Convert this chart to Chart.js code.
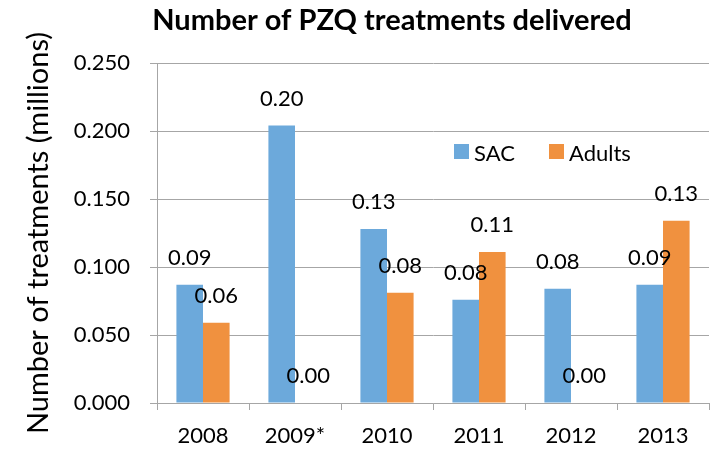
<!DOCTYPE html>
<html>
<head>
<meta charset="utf-8">
<script src="https://cdn.jsdelivr.net/npm/chart.js@4"></script>
<style>
  html, body { margin: 0; padding: 0; background: #fff; }
  #wrap { width: 727px; height: 450px; }
</style>
</head>
<body>
<div id="wrap"><canvas id="pzqChart"></canvas></div>
<script>
const years = ['2008', '2009*', '2010', '2011', '2012', '2013'];
const sacValues = [0.087, 0.204, 0.128, 0.076, 0.084, 0.087];
const adultValues = [0.059, 0, 0.081, 0.111, 0, 0.134];
const seriesNames = ['SAC', 'Adults'];
const chartTitle = 'Number of PZQ treatments delivered';
const yTitle = 'Number of treatments (millions)';

const FONT = 'Lato, "Open Sans", sans-serif';
const GRID = '#A6A6A6';

// labels above each bar, legend and title drawn by hand (Excel style)
const extrasPlugin = {
    id: 'extras',
    afterDatasetsDraw(chart) {
        const ctx = chart.ctx;
        ctx.save();
        ctx.fillStyle = '#000';
        ctx.font = '22px ' + FONT;
        ctx.textAlign = 'center';
        ctx.textBaseline = 'alphabetic';
        chart.data.datasets.forEach((ds, i) => {
            chart.getDatasetMeta(i).data.forEach((bar, j) => {
                ctx.fillText(ds.data[j].toFixed(2), bar.x, bar.y - 20);
            });
        });

        // legend
        ctx.textAlign = 'left';
        let x = 454;
        chart.data.datasets.forEach((ds) => {
            ctx.fillStyle = ds.backgroundColor;
            ctx.fillRect(x, 144, 15, 15);
            ctx.fillStyle = '#000';
            ctx.fillText(ds.label, x + 20, 161);
            x += 95;
        });

        // title
        ctx.font = 'bold 29px ' + FONT;
        ctx.textAlign = 'center';
        ctx.fillText(chartTitle, 392, 30);
        ctx.restore();
    }
};

new Chart(document.getElementById('pzqChart'), {
    type: 'bar',
    data: {
        labels: years,
        datasets: [
            { label: seriesNames[0], data: sacValues, backgroundColor: '#6CA9DB' },
            { label: seriesNames[1], data: adultValues, backgroundColor: '#F0913F' }
        ]
    },
    options: {
        responsive: true, maintainAspectRatio: false, animation: false,
        layout: { padding: { top: 63, right: 18, left: 0, bottom: 0 } },
        datasets: { bar: { categoryPercentage: 0.578, barPercentage: 1.0 } },
        plugins: { legend: { display: false }, tooltip: { enabled: false } },
        scales: {
            x: {
                grid: { drawOnChartArea: false, drawTicks: true, tickLength: 7, color: GRID },
                border: { color: GRID },
                ticks: { color: '#000', font: { family: FONT, size: 22 }, padding: 13 },
                afterFit(s) { s.height = 47; }
            },
            y: {
                min: 0, max: 0.25,
                grid: { color: GRID, tickLength: 7 },
                border: { color: GRID },
                ticks: {
                    stepSize: 0.05, color: '#000', padding: 20,
                    font: { family: FONT, size: 22 },
                    callback: v => v.toFixed(3)
                },
                title: {
                    display: true, text: yTitle, color: '#000',
                    font: { family: FONT, size: 29 }, padding: { top: 21, bottom: 0 }
                },
                afterFit(s) { s.width = 157; }
            }
        }
    },
    plugins: [extrasPlugin]
});
</script>
</body>
</html>
